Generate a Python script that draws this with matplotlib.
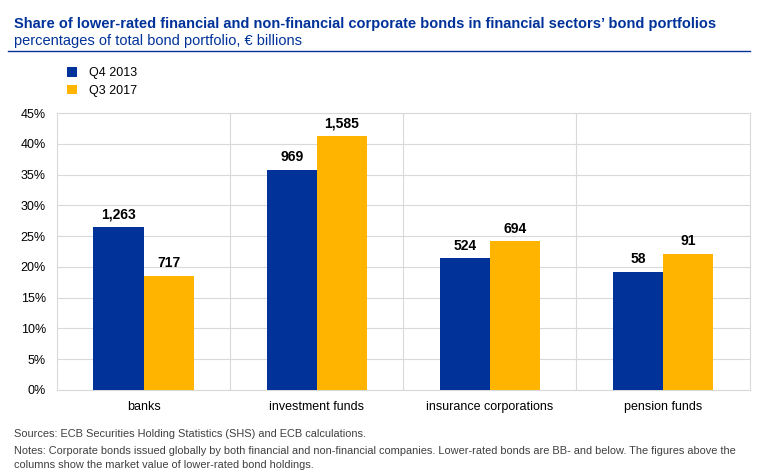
import matplotlib.pyplot as plt
import numpy as np

plt.rcParams['font.family'] = ['Liberation Sans', 'DejaVu Sans']

categories = ["banks", "investment funds", "insurance corporations", "pension funds"]
share_2013 = [26.5, 35.8, 21.4, 19.2]
share_2017 = [18.6, 41.2, 24.2, 22.1]
value_2013 = ["1,263", "969", "524", "58"]
value_2017 = ["717", "1,585", "694", "91"]
series = ["Q4 2013", "Q3 2017"]

blue = "#003299"
yellow = "#FFB400"

fig = plt.figure(figsize=(7.62, 4.75), dpi=100)
ax = fig.add_axes([0.0748, 0.179, 0.909, 0.583])

x = np.arange(len(categories))
w = 0.29
b1 = ax.bar(x - w / 2, share_2013, w, color=blue, label=series[0], zorder=3)
b2 = ax.bar(x + w / 2, share_2017, w, color=yellow, label=series[1], zorder=3)

for bars, labels in [(b1, value_2013), (b2, value_2017)]:
    for bar, lab in zip(bars, labels):
        ax.text(bar.get_x() + bar.get_width() / 2, bar.get_height() + 0.9, lab,
                ha="center", va="bottom", fontsize=10, fontweight="bold", color="#000000")

ax.set_xlim(-0.5, len(categories) - 0.5)
ax.set_ylim(0, 45)
ax.set_yticks(range(0, 46, 5))
ax.set_yticklabels([f"{v}%" for v in range(0, 46, 5)])
ax.set_xticks(x)
ax.set_xticklabels(categories)
ax.tick_params(axis="both", length=0, labelsize=9, colors="#000000")
ax.tick_params(axis="x", pad=8)
ax.tick_params(axis="y", pad=8)
ax.grid(axis="y", color="#d9d9d9", linewidth=0.8, zorder=0)
for xv in x[:-1] + 0.5:
    ax.axvline(xv, color="#d9d9d9", linewidth=0.8, zorder=0)
for s in ax.spines.values():
    s.set_color("#d9d9d9")
    s.set_linewidth(0.8)

fig.text(0.0184, 0.949, "Share of lower-rated financial and non-financial corporate bonds in financial sectors\u2019 bond portfolios",
         fontsize=10.5, fontweight="bold", color=blue, va="center")
fig.text(0.0184, 0.913, "percentages of total bond portfolio, \u20ac billions",
         fontsize=10.5, color=blue, va="center")
fig.add_artist(plt.Line2D([0.011, 0.984], [0.893, 0.893], color=blue, linewidth=1.0))

fig.legend(handles=[b1, b2], labels=series, loc="upper left", bbox_to_anchor=(0.0885, 0.859),
           frameon=False, fontsize=9, handlelength=0.8, handleheight=0.8, handletextpad=0.9,
           labelspacing=0.45, borderaxespad=0, borderpad=0)

fig.text(0.0184, 0.086, "Sources: ECB Securities Holding Statistics (SHS) and ECB calculations.",
         fontsize=7.9, color="#404040", va="center")
fig.text(0.0184, 0.051, "Notes: Corporate bonds issued globally by both financial and non-financial companies. Lower-rated bonds are BB- and below. The figures above the",
         fontsize=7.9, color="#404040", va="center")
fig.text(0.0184, 0.022, "columns show the market value of lower-rated bond holdings.",
         fontsize=7.9, color="#404040", va="center")

fig.savefig("out.png", dpi=100)
